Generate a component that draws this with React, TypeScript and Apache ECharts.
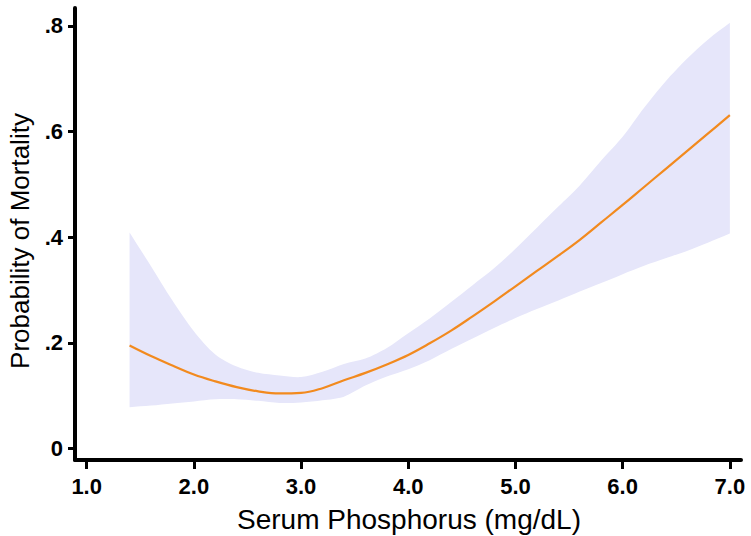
import React, { useEffect, useRef } from "react";
import * as echarts from "echarts";

const xValues = [1.4, 1.6, 1.8, 2.0, 2.2, 2.4, 2.6, 2.8, 3.0, 3.2, 3.4, 3.6, 3.8, 4.0, 4.2, 4.4, 4.6, 4.8, 5.0, 5.2, 5.4, 5.6, 5.8, 6.0, 6.2, 6.4, 6.6, 6.8, 7.0];
const predicted = [0.195, 0.175, 0.157, 0.140, 0.127, 0.116, 0.108, 0.104, 0.105, 0.114, 0.129, 0.143, 0.159, 0.177, 0.199, 0.223, 0.250, 0.278, 0.307, 0.336, 0.365, 0.395, 0.428, 0.461, 0.495, 0.529, 0.563, 0.597, 0.631];
const upperCI = [0.409, 0.345, 0.280, 0.222, 0.178, 0.155, 0.143, 0.138, 0.135, 0.145, 0.160, 0.170, 0.190, 0.218, 0.246, 0.277, 0.309, 0.341, 0.378, 0.418, 0.458, 0.498, 0.545, 0.590, 0.645, 0.695, 0.738, 0.775, 0.806];
const lowerCI = [0.078, 0.081, 0.085, 0.089, 0.093, 0.093, 0.090, 0.086, 0.087, 0.091, 0.098, 0.119, 0.136, 0.150, 0.167, 0.188, 0.208, 0.228, 0.247, 0.264, 0.280, 0.297, 0.313, 0.330, 0.346, 0.360, 0.374, 0.390, 0.407];
const xTicks = [1, 2, 3, 4, 5, 6, 7];
const yTicks = [0, 0.2, 0.4, 0.6, 0.8];

const FONT = "'Liberation Sans', Arial, Helvetica, sans-serif";

export default function App() {
  const ref = useRef<HTMLDivElement>(null);
  useEffect(() => {
    if (!ref.current) return;
    const chart = echarts.init(ref.current, null, { renderer: "svg" });
    const bandData = xValues.map((x, i) => [x, lowerCI[i], upperCI[i]]);
    const lineData = xValues.map((x, i) => [x, predicted[i]]);
    chart.setOption({
      animation: false,
      backgroundColor: "#ffffff",
      grid: { left: 75, right: 10, top: 8, bottom: 76, containLabel: false },
      xAxis: {
        type: "value",
        min: 0.891,
        max: 7.104,
        splitLine: { show: false },
        axisLine: { show: true, onZero: false, lineStyle: { color: "#000", width: 4, cap: "round" } },
        axisTick: { show: true, customValues: xTicks, length: 9, lineStyle: { color: "#000", width: 3 } },
        axisLabel: {
          customValues: xTicks,
          formatter: (v: number) => v.toFixed(1),
          color: "#000",
          fontFamily: FONT,
          fontWeight: "bold",
          fontSize: 22,
          margin: 15,
        },
      },
      yAxis: {
        type: "value",
        min: -0.022,
        max: 0.834,
        splitLine: { show: false },
        axisLine: { show: true, onZero: false, lineStyle: { color: "#000", width: 4, cap: "round" } },
        axisTick: { show: true, customValues: yTicks, length: 7, lineStyle: { color: "#000", width: 3 } },
        axisLabel: {
          customValues: yTicks,
          formatter: (v: number) => (Math.abs(v) < 1e-9 ? "0" : v.toFixed(1).replace(/^0/, "")),
          color: "#000",
          fontFamily: FONT,
          fontWeight: "bold",
          fontSize: 22,
          margin: 12,
        },
      },
      series: [
        {
          name: "95% CI",
          type: "custom",
          data: bandData,
          encode: { x: 0, y: [1, 2] },
          silent: true,
          clip: true,
          renderItem: (params: any, api: any) => {
            if (params.dataIndex !== 0) return null;
            const top = bandData.map((d) => api.coord([d[0], d[2]]));
            const bottom = bandData.map((d) => api.coord([d[0], d[1]])).reverse();
            const pts = [top[0], ...top, top[top.length - 1], bottom[0], ...bottom, bottom[bottom.length - 1]];
            return {
              type: "polygon",
              shape: { points: pts, smooth: 0.3 },
              style: { fill: "#E6E6FA", stroke: "none" },
            };
          },
          z: 1,
        },
        {
          name: "predicted",
          type: "line",
          data: lineData,
          symbol: "none",
          smooth: 0.4,
          lineStyle: { color: "#F28A1E", width: 2.2 },
          z: 5,
        },
      ],
      graphic: [
        {
          type: "text",
          x: 409,
          y: 519,
          style: {
            text: "Serum Phosphorus (mg/dL)",
            fontFamily: FONT,
            fontSize: 28,
            fill: "#000",
            align: "center",
            verticalAlign: "middle",
          },
        },
        {
          type: "text",
          x: 20,
          y: 241,
          rotation: Math.PI / 2,
          style: {
            text: "Probability of Mortality",
            fontFamily: FONT,
            fontSize: 26,
            fill: "#000",
            align: "center",
            verticalAlign: "middle",
          },
        },
      ],
    });
    return () => chart.dispose();
  }, []);
  return <div ref={ref} style={{ width: 751, height: 536, position: "absolute", left: 0, top: 0 }} />;
}
